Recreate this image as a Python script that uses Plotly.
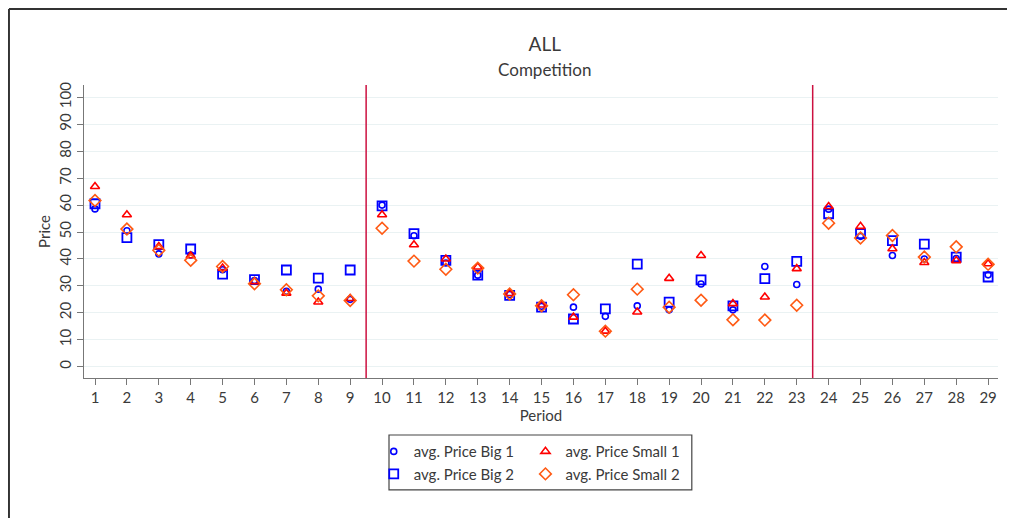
import plotly.graph_objects as go

periods = list(range(1, 30))
big1 = [58.6, 50.5, 41.9, 41.5, 36.0, 32.0, 28.0, 28.8, 25.0, 60.0, 48.6, 38.5, 34.0, 26.8, 22.4,
        22.1, 18.7, 22.6, 21.1, 30.7, 21.1, 37.2, 30.5, 58.5, 48.4, 41.3, 40.0, 40.2, 34.1]
big2 = [60.5, 47.9, 45.3, 43.7, 34.4, 32.3, 35.9, 32.9, 35.9, 59.7, 49.4, 39.5, 34.0, 26.5, 22.1,
        17.7, 21.5, 38.1, 24.0, 32.2, 22.6, 32.7, 39.1, 56.8, 49.4, 46.8, 45.5, 40.7, 33.3]
small1 = [66.9, 56.4, 44.6, 41.2, 36.6, 31.6, 27.3, 24.0, 25.3, 56.4, 45.3, 40.0, 37.0, 27.2, 22.9,
          18.4, 13.2, 20.3, 32.8, 41.3, 23.4, 25.9, 36.4, 59.5, 52.1, 43.8, 38.7, 39.4, 38.2]
small2 = [61.7, 51.1, 43.2, 39.5, 37.2, 30.8, 28.6, 26.3, 24.6, 51.4, 39.2, 36.2, 36.6, 27.0, 22.6,
          26.7, 13.2, 28.8, 22.1, 24.7, 17.4, 17.3, 22.8, 53.3, 47.8, 48.7, 40.7, 44.5, 38.0]
phase_breaks = [9.5, 23.5]
y_ticks = list(range(0, 101, 10))

FONT = "Lato"
TXT = "#3a3a3a"

fig = go.Figure()
fig.add_trace(go.Scatter(x=periods, y=big1, mode="markers", name="avg. Price Big 1",
                         marker=dict(symbol="circle-open", size=6, color="#0000ff", line=dict(width=1.6)),
                         legend="legend"))
fig.add_trace(go.Scatter(x=periods, y=big2, mode="markers", name="avg. Price Big 2",
                         marker=dict(symbol="square-open", size=9, color="#0000ff", line=dict(width=1.8)),
                         legend="legend"))
fig.add_trace(go.Scatter(x=periods, y=small1, mode="markers", name="avg. Price Small 1",
                         marker=dict(symbol="triangle-up-open", size=8, color="#ff0000", line=dict(width=1.6)),
                         legend="legend2"))
fig.add_trace(go.Scatter(x=periods, y=small2, mode="markers", name="avg. Price Small 2",
                         marker=dict(symbol="diamond-open", size=9, color="#ff5a14", line=dict(width=1.6)),
                         legend="legend2"))

shapes = []
for b in phase_breaks:
    shapes.append(dict(type="line", xref="x", yref="paper", x0=b, x1=b, y0=0, y1=1,
                       line=dict(color="#cc1040", width=1.5)))
# legend box
shapes.append(dict(type="rect", xref="paper", yref="paper", x0=0.3337, x1=0.665, y0=-0.382, y1=-0.1945,
                   line=dict(color="#444444", width=1.2), fillcolor="rgba(0,0,0,0)"))
# outer frame: only left and top edges are visible; kept inside the figure bounds
shapes.append(dict(type="line", xref="paper", yref="paper", x0=-0.0821, x1=-0.0821, y0=-0.478, y1=1.259,
                   line=dict(color="#333333", width=2)))
shapes.append(dict(type="line", xref="paper", yref="paper", x0=-0.0821, x1=1.017, y0=1.259, y1=1.259,
                   line=dict(color="#333333", width=2)))

leg_common = dict(orientation="v", bgcolor="rgba(0,0,0,0)", borderwidth=0,
                  font=dict(family=FONT, size=15, color=TXT), yanchor="top", xanchor="left",
                  tracegroupgap=0, itemsizing="trace", itemwidth=30)

fig.update_layout(
    width=1007, height=511,
    margin=dict(l=76, r=17, t=77, b=141, autoexpand=False),
    paper_bgcolor="white", plot_bgcolor="white",
    font=dict(family=FONT, color=TXT),
    title=dict(text="ALL<br><span style='font-size:17px'>Competition</span>",
               x=0.533, xanchor="center", y=0.916, yanchor="top",
               font=dict(family=FONT, size=19, color=TXT)),
    shapes=shapes,
    legend=dict(x=0.317, y=-0.195, **leg_common),
    legend2=dict(x=0.483, y=-0.195, **leg_common),
    xaxis=dict(range=[0.655, 29.31], tickmode="array", tickvals=periods, ticks="outside",
               ticklen=6, tickcolor="#777777", showline=True, linecolor="#777777", linewidth=1.2,
               showgrid=False, zeroline=False, automargin=False,
               tickfont=dict(family=FONT, size=15, color=TXT),
               title=dict(text="Period", font=dict(family=FONT, size=15, color=TXT), standoff=2)),
    yaxis=dict(range=[-4.2, 104.6], tickmode="array", tickvals=y_ticks, ticks="outside",
               ticklen=6, tickcolor="#777777", showline=True, linecolor="#777777", linewidth=1.2,
               showgrid=True, gridcolor="#eaf2f3", gridwidth=1.2, zeroline=False, tickangle=-90,
               automargin=False,
               tickfont=dict(family=FONT, size=15, color=TXT),
               title=dict(text="Price", font=dict(family=FONT, size=15, color=TXT), standoff=1)),
)

fig.write_html("out.html")
